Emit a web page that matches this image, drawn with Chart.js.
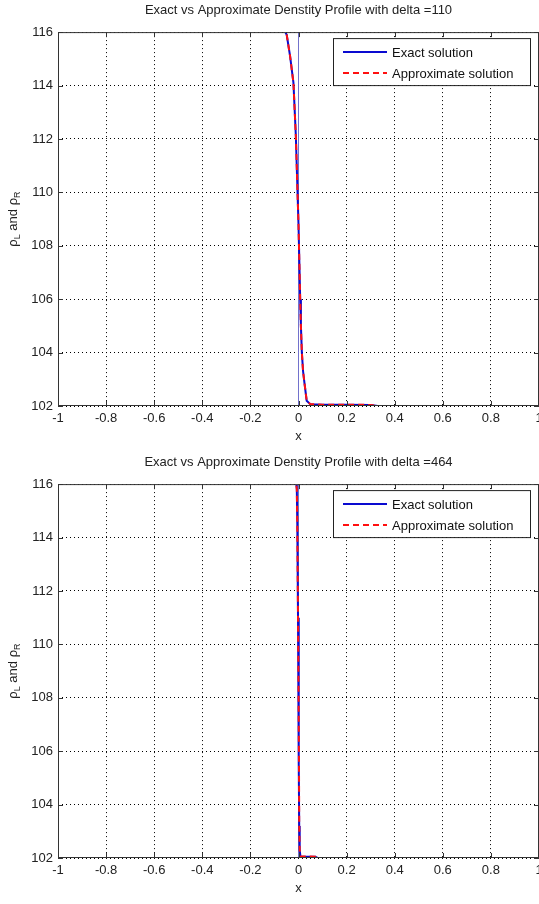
<!DOCTYPE html>
<html>
<head>
<meta charset="utf-8">
<script src="https://cdn.jsdelivr.net/npm/chart.js@4"></script>
<style>
  body { margin: 0; background: #fff; }
  canvas { position: absolute; left: 0; }
</style>
</head>
<body>
<canvas id="top" width="539" height="452" style="top:0"></canvas>
<canvas id="bottom" width="539" height="452" style="top:452px"></canvas>
<script>
var FONT = "'Liberation Sans', Arial, sans-serif";

var xTicks = [-1, -0.8, -0.6, -0.4, -0.2, 0, 0.2, 0.4, 0.6, 0.8, 1];
var yTicks = [102, 104, 106, 108, 110, 112, 114, 116];

// delta = 110
var xTop      = [-1, -0.055, -0.049, -0.035, -0.021, -0.011, -0.004, 0, 0.004, 0.007, 0.010, 0.014, 0.019, 0.025, 0.034, 0.049, 0.1, 0.2, 0.3, 0.33, 1];
var exactTop  = [116, 116, 115.9, 115.1, 114.1, 112.1, 110.0, 108.8, 107.2, 106.0, 105.0, 104.0, 103.3, 102.85, 102.2, 102.07, 102.05, 102.05, 102.04, 102, 102];
var approxTop = [116, 116, 115.9, 115.1, 114.1, 112.1, 110.0, 108.8, 107.2, 106.0, 105.0, 104.0, 103.3, 102.85, 102.2, 102.07, 102.05, 102.05, 102.04, 102, 102];

// delta = 464
var xBot      = [-1, -0.009, -0.007, -0.005, -0.002, 0, 0.002, 0.003, 0.005, 0.008, 0.07, 0.08, 1];
var exactBot  = [116, 116, 115.8, 114.5, 111, 108.5, 105.5, 103.2, 102.3, 102.06, 102.05, 102, 102];
var approxBot = [116, 116, 115.8, 114.5, 111, 108.5, 105.5, 103.2, 102.3, 102.06, 102.05, 102, 102];

var shockX = [0, 0];
var shockY = [102, 116];

function pts(xs, ys) {
  return xs.map(function (x, i) { return { x: x, y: ys[i] }; });
}

// box, inward ticks, legend and y label in matlab style
var axesBox = {
  id: 'axesBox',
  afterDatasetsDraw: function (chart) {
    var ctx = chart.ctx, a = chart.chartArea;
    var sx = chart.scales.x, sy = chart.scales.y;
    ctx.save();
    ctx.strokeStyle = '#333';
    ctx.lineWidth = 1;
    ctx.strokeRect(a.left + 0.5, a.top + 0.5, a.right - a.left - 1, a.bottom - a.top - 1);
    ctx.beginPath();
    xTicks.forEach(function (t) {
      var px = Math.round(sx.getPixelForValue(t)) + 0.5;
      ctx.moveTo(px, a.bottom); ctx.lineTo(px, a.bottom - 5);
      ctx.moveTo(px, a.top); ctx.lineTo(px, a.top + 5);
    });
    yTicks.forEach(function (t) {
      var py = Math.round(sy.getPixelForValue(t)) + 0.5;
      ctx.moveTo(a.left, py); ctx.lineTo(a.left + 5, py);
      ctx.moveTo(a.right, py); ctx.lineTo(a.right - 5, py);
    });
    ctx.stroke();

    // legend
    var lx = 333, ly = a.top + 6, lw = 197, lh = 47;
    ctx.fillStyle = '#fff';
    ctx.fillRect(lx, ly, lw, lh);
    ctx.strokeStyle = '#222';
    ctx.strokeRect(lx + 0.5, ly + 0.5, lw, lh);
    ctx.font = '13px ' + FONT;
    ctx.textBaseline = 'middle';
    ctx.textAlign = 'left';
    [0, 1].forEach(function (i) {
      var ds = chart.data.datasets[i];
      var yy = ly + 14 + i * 21;
      ctx.beginPath();
      ctx.strokeStyle = ds.borderColor;
      ctx.lineWidth = 2;
      ctx.setLineDash(ds.borderDash || []);
      ctx.moveTo(lx + 10, yy); ctx.lineTo(lx + 54, yy);
      ctx.stroke();
      ctx.setLineDash([]);
      ctx.fillStyle = '#111';
      ctx.fillText(ds.label, lx + 59, yy + 1);
    });

    // y axis label with subscripts
    var parts = [['\u03c1', 13, 0], ['L', 9, 3], [' and ', 13, 0], ['\u03c1', 13, 0], ['R', 9, 3]];
    var total = 0;
    parts.forEach(function (p) { ctx.font = p[1] + 'px ' + FONT; total += ctx.measureText(p[0]).width; });
    ctx.translate(17, (a.top + a.bottom) / 2);
    ctx.rotate(-Math.PI / 2);
    ctx.fillStyle = '#222';
    ctx.textBaseline = 'alphabetic';
    var cx = -total / 2;
    parts.forEach(function (p) {
      ctx.font = p[1] + 'px ' + FONT;
      ctx.fillText(p[0], cx, p[2]);
      cx += ctx.measureText(p[0]).width;
    });
    ctx.restore();
  }
};

function makeChart(id, delta, xs, exact, approx) {
  return new Chart(document.getElementById(id), {
    type: 'scatter',
    data: {
      datasets: [
        {
          label: 'Exact solution',
          data: pts(xs, exact),
          showLine: true,
          borderColor: '#0a0ad0',
          borderWidth: 2,
          pointRadius: 0,
          clip: -1,
          order: 1
        },
        {
          label: 'Approximate solution',
          data: pts(xs, approx),
          showLine: true,
          borderColor: '#ff1010',
          borderDash: [6, 4],
          borderWidth: 2,
          pointRadius: 0,
          clip: -1,
          order: 0
        },
        {
          label: 'shock',
          data: pts(shockX, shockY),
          showLine: true,
          borderColor: '#7272cc',
          borderWidth: 1,
          pointRadius: 0,
          order: 2
        }
      ]
    },
    options: {
      responsive: false,
      animation: false,
      layout: { padding: 0 },
      plugins: {
        legend: { display: false },
        tooltip: { enabled: false },
        title: {
          display: true,
          fullSize: false,
          text: 'Exact vs Approximate Denstity Profile with delta =' + delta,
          color: '#222',
          font: { family: FONT, size: 13, weight: 'normal' },
          padding: { top: 3, bottom: 13.5 }
        }
      },
      scales: {
        x: {
          type: 'linear',
          min: -1,
          max: 1,
          afterBuildTicks: function (s) { s.ticks = xTicks.map(function (v) { return { value: v }; }); },
          afterFit: function (s) { s.height = 46; s.paddingLeft = 0; s.paddingRight = 0; },
          ticks: {
            color: '#222',
            font: { family: FONT, size: 13 },
            padding: 5,
            maxRotation: 0,
            autoSkip: false,
            callback: function (v) { return String(Math.round(v * 10) / 10); }
          },
          grid: { color: '#000', drawTicks: false, borderDash: [1, 3] },
          border: { display: false, dash: [1, 3] },
          title: {
            display: true,
            text: 'x',
            color: '#222',
            font: { family: FONT, size: 13 },
            padding: { top: 0, bottom: 8 }
          }
        },
        y: {
          type: 'linear',
          min: 102,
          max: 116,
          afterBuildTicks: function (s) { s.ticks = yTicks.map(function (v) { return { value: v }; }); },
          afterFit: function (s) { s.width = 58; s.paddingTop = 0; s.paddingBottom = 0; },
          ticks: {
            color: '#222',
            font: { family: FONT, size: 13 },
            padding: 5,
            autoSkip: false
          },
          grid: { color: '#000', drawTicks: false, borderDash: [1, 3] },
          border: { display: false, dash: [1, 3] }
        }
      }
    },
    plugins: [axesBox]
  });
}

makeChart('top', 110, xTop, exactTop, approxTop);
makeChart('bottom', 464, xBot, exactBot, approxBot);
</script>
</body>
</html>
